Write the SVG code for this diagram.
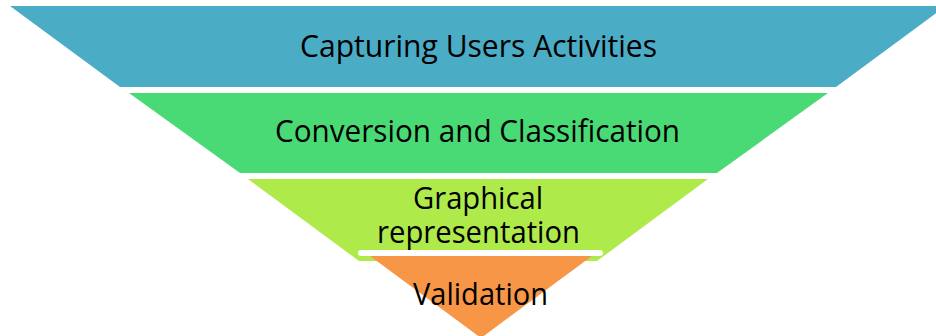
<svg xmlns="http://www.w3.org/2000/svg" width="936" height="336" viewBox="0 0 936 336">
<style>
.lbl{font-family:"Open Sans","Noto Sans",sans-serif;font-size:31px;fill:#000;text-anchor:middle}
</style>
<rect width="936" height="336" fill="#fff"/>
<g id="capturing">
<polygon points="10,6 946,6 836,87 120,87" fill="#4BACC6"/>
<text class="lbl" x="478.5" y="57" textLength="357" lengthAdjust="spacingAndGlyphs">Capturing Users Activities</text>
</g>
<g id="conversion">
<polygon points="129,93 828,93 717,173 240,173" fill="#4ADA75"/>
<text class="lbl" x="477.5" y="142" textLength="405" lengthAdjust="spacingAndGlyphs">Conversion and Classification</text>
</g>
<g id="graphical">
<polygon points="248,179 708,179 597,261 359,261" fill="#AFEA4B"/>
<text class="lbl" x="478" y="209" textLength="130" lengthAdjust="spacingAndGlyphs">Graphical</text>
<text class="lbl" x="478.5" y="243" textLength="203" lengthAdjust="spacingAndGlyphs">representation</text>
</g>
<g id="validation">
<line x1="361" y1="253" x2="600" y2="253" stroke="#fff" stroke-width="6" stroke-linecap="round"/>
<polygon points="370,256 592,256 481,338" fill="#F79646"/>
<text class="lbl" x="480.5" y="305" textLength="135" lengthAdjust="spacingAndGlyphs">Validation</text>
</g>
<g id="connectors"/>
</svg>
